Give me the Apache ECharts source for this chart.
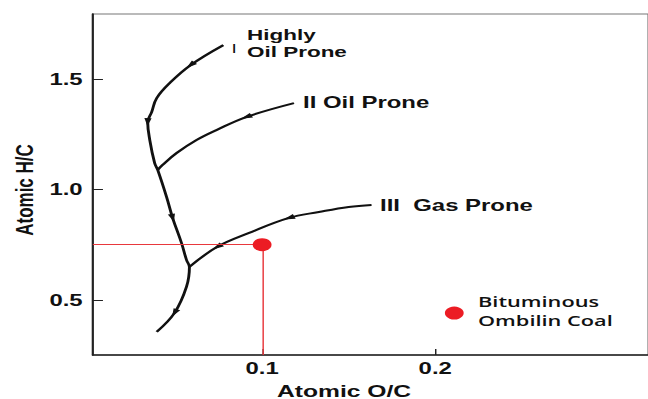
<!DOCTYPE html>
<html><head><meta charset="utf-8">
<script src="https://cdn.jsdelivr.net/npm/echarts@6/dist/echarts.min.js"></script>
<style>
html,body{margin:0;padding:0;background:#fff;overflow:hidden;width:648px;height:399px;}
#chart{width:447px;height:399px;transform:scaleX(1.45);transform-origin:0 0;}
</style></head><body><div id="chart"></div>
<script>
// ---- data ----
const xTicks = [0.1, 0.2];
const yTicks = [0.5, 1.0, 1.5];
const curveI = [[0.0776,1.654],[0.0586,1.563],[0.0466,1.482],[0.0391,1.414],[0.0362,1.351],[0.0339,1.305],[0.0351,1.224],[0.0379,1.120],[0.0397,1.088],[0.0448,0.966],[0.0483,0.871],[0.0534,0.758],[0.0563,0.681],[0.0580,0.649],[0.0563,0.559],[0.0494,0.441],[0.0391,0.355]];
const curveII = [[0.1184,1.391],[0.0908,1.328],[0.0736,1.269],[0.0621,1.224],[0.0506,1.165],[0.0425,1.111],[0.0397,1.088]];
const curveIII = [[0.1632,0.930],[0.1500,0.921],[0.1328,0.898],[0.1155,0.871],[0.0925,0.803],[0.0741,0.740],[0.0580,0.649]];
const samples = [[0.1,0.75],[0.211,0.44]];
const arrowsAt = {I:[1,5,10,15], II:[1], III:[3,5]};
const curveNames = ['I','II','III'];

// ---- layout ----
const S = 1.45;
const XMIN = 0.00218, XMAX = 0.3230, YMIN = 0.25, YMAX = 1.795;
const F = 'Liberation Sans, Arial, sans-serif';
const chart = echarts.init(document.getElementById('chart'), null, {renderer:'svg'});

function lineSeries(name, data){
  return {name, type:'line', data, smooth:0.4, symbol:'none', silent:true,
    lineStyle:{color:'#111', width:2}, z:3};
}
function txt(x, y, t, o){
  return Object.assign({type:'text', x:x/S, y:y, silent:true,
    style:Object.assign({text:t, fill:'#111', font:'bold 16.5px '+F, textAlign:'left', textVerticalAlign:'middle'}, o||{})});
}

const option = {
  animation:false,
  backgroundColor:'#fff',
  grid:{left:64, right:-2, top:14, bottom:44, show:true, borderColor:'#777', borderWidth:1},
  xAxis:{type:'value', min:XMIN, max:XMAX,
    axisLine:{show:true, lineStyle:{color:'#222', width:1.5}},
    axisTick:{show:true, inside:true, length:6, customValues:xTicks, lineStyle:{color:'#222', width:1}},
    axisLabel:{customValues:xTicks, formatter:v=>v.toFixed(1), fontSize:16.5, fontWeight:'bold', fontFamily:F, color:'#111', margin:4},
    splitLine:{show:false}},
  yAxis:{type:'value', min:YMIN, max:YMAX,
    axisLine:{show:true, lineStyle:{color:'#222', width:1.5}},
    axisTick:{show:true, inside:true, length:7, customValues:yTicks, lineStyle:{color:'#222', width:1}},
    axisLabel:{customValues:yTicks, formatter:v=>v.toFixed(1), fontSize:16.5, fontWeight:'bold', fontFamily:F, color:'#111', margin:7},
    splitLine:{show:false}},
  series:[
    lineSeries('I', curveI),
    lineSeries('II', curveII),
    lineSeries('III', curveIII),
    {id:'arrows', type:'scatter', symbol:'triangle', symbolSize:[5,8], itemStyle:{color:'#111', opacity:1}, data:[], z:4, silent:true},
    {name:'samples', type:'scatter', data:samples, symbol:'circle', symbolSize:13,
      itemStyle:{color:'#ec1c24', opacity:1}, z:5, silent:true,
      markLine:{silent:true, symbol:'none', label:{show:false}, animation:false,
        lineStyle:{color:'#e8383d', width:1, type:'solid', opacity:1},
        data:[
          [{coord:[XMIN, samples[0][1]]},{coord:[samples[0][0], samples[0][1]]}],
          [{coord:[samples[0][0], samples[0][1]]},{coord:[samples[0][0], YMIN]}]
        ]}}
  ],
  graphic:[
    txt(24, 190, 'Atomic H/C', {font:'bold 17px '+F, textAlign:'center'}),
    txt(344, 391, 'Atomic O/C', {font:'bold 17px '+F, textAlign:'center'}),
    txt(234, 48, 'I', {font:'13px '+F, textAlign:'center'}),
    txt(247, 35, 'Highly', {font:'bold 15.5px '+F}),
    txt(247, 52, 'Oil Prone', {font:'bold 15.5px '+F}),
    txt(303, 102, 'II Oil Prone'),
    txt(380, 205, 'III\u00a0 Gas Prone'),
    txt(478, 301, 'Bituminous', {font:'600 15px "Open Sans", sans-serif'}),
    txt(478, 320, 'Ombilin Coal', {font:'600 15px "Open Sans", sans-serif'})
  ]
};
option.graphic[0].rotation = Math.PI/2;
chart.setOption(option);

function arrowData(){
  const out = [];
  [curveI, curveII, curveIII].forEach((c, k)=>{
    arrowsAt[curveNames[k]].forEach(i=>{
      const a = chart.convertToPixel({gridIndex:0}, c[i-1]);
      const b = chart.convertToPixel({gridIndex:0}, c[i+1]);
      const ang = Math.atan2(-(b[1]-a[1]), b[0]-a[0])*180/Math.PI - 90;
      out.push({value:c[i], symbolRotate:ang});
    });
  });
  return out;
}
chart.setOption({series:[{id:'arrows', data:arrowData()}]});
</script></body></html>
